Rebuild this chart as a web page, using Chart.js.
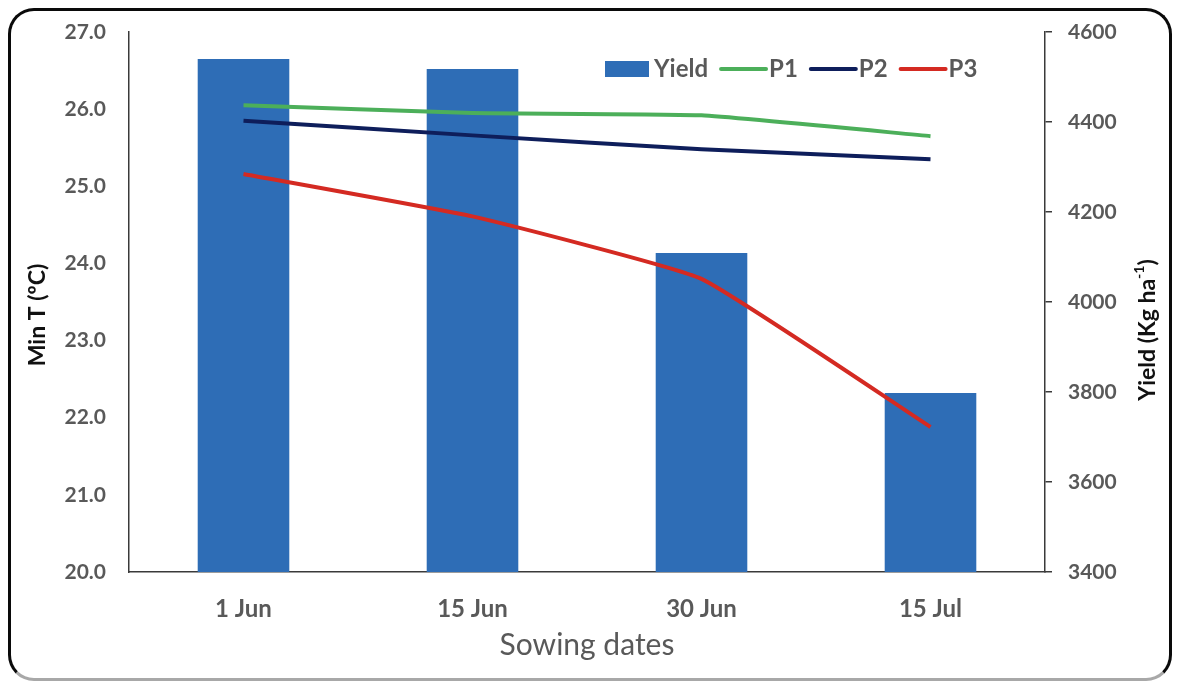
<!DOCTYPE html>
<html>
<head>
<meta charset="utf-8">
<title>Sowing dates: minimum temperature and yield</title>
<script src="https://cdn.jsdelivr.net/npm/chart.js@4.4.1/dist/chart.umd.min.js"></script>
<style>
  html, body { margin: 0; padding: 0; background: #fff; overflow: hidden; }
  #wrap { position: relative; width: 1178px; height: 681px; }
  canvas { position: absolute; left: 0; top: 0; }
  #frame {
    position: absolute; left: 8px; top: 8px;
    width: 1158px; height: 667px;
    border: 3px solid #0a0a0a; border-bottom-color: #a8a8a8;
    border-radius: 26px; pointer-events: none;
  }
</style>
</head>
<body>
<div id="wrap">
  <canvas id="chart" width="1178" height="681"></canvas>
  <div id="frame"></div>
</div>
<script>
// Sowing dates on the x axis
const categories = ['1 Jun', '15 Jun', '30 Jun', '15 Jul'];

// Grain yield (Kg ha-1), right axis
const yieldKg = [4540, 4518, 4109, 3798];

// Minimum temperature (ºC) during growth phases, left axis
const p1 = [26.05, 25.95, 25.92, 25.65];
const p2 = [25.85, 25.66, 25.48, 25.35];
const p3 = [25.16, 24.61, 23.80, 21.88];

// Axis ranges
const tempRange = { min: 20, max: 27, step: 1 };
const yieldRange = { min: 3400, max: 4600, step: 200 };

const FONT = 'Lato, "Open Sans", "DejaVu Sans", sans-serif';
const GRAY = '#595959';
const AXIS = '#3a3a3a';

// Legend drawn inside the plot area, top right
const insideLegend = {
  id: 'insideLegend',
  afterDraw(chart) {
    const ctx = chart.ctx;
    let x = 605;
    const y = 69;
    ctx.save();
    ctx.font = 'bold 24px ' + FONT;
    ctx.textBaseline = 'middle';
    ctx.textAlign = 'left';
    chart.data.datasets.forEach(ds => {
      if (ds.type === 'bar') {
        ctx.fillStyle = ds.backgroundColor;
        ctx.fillRect(x, y - 8, 44, 16);
      } else {
        ctx.strokeStyle = ds.borderColor;
        ctx.lineWidth = 4;
        ctx.lineCap = 'round';
        ctx.beginPath();
        ctx.moveTo(x + 1, y);
        ctx.lineTo(x + 46, y);
        ctx.stroke();
      }
      x += 49;
      ctx.fillStyle = GRAY;
      ctx.fillText(ds.label, x, y);
      x += ctx.measureText(ds.label).width + 12;
    });
    ctx.restore();
  }
};

// Axis titles drawn as rotated text; the right one carries a superscript unit
function drawRotated(ctx, parts, cx, cy, color) {
  ctx.save();
  let total = 0;
  parts.forEach(p => { ctx.font = p.f; p.w = ctx.measureText(p.t).width; total += p.w; });
  ctx.translate(cx, cy);
  ctx.rotate(-Math.PI / 2);
  ctx.fillStyle = color;
  ctx.textBaseline = 'middle';
  ctx.textAlign = 'left';
  let x = -total / 2;
  parts.forEach(p => { ctx.font = p.f; ctx.fillText(p.t, x, p.dy); x += p.w; });
  ctx.restore();
}

const axisTitles = {
  id: 'axisTitles',
  afterDraw(chart) {
    const ctx = chart.ctx;
    const main = 'bold 23px ' + FONT;
    const sup = 'bold 14px ' + FONT;
    drawRotated(ctx, [{ t: 'Min T (ºC)', f: main, dy: 0 }], 38, 315, '#111');
    drawRotated(ctx, [
      { t: 'Yield (Kg ha', f: main, dy: 0 },
      { t: '-1', f: sup, dy: -9 },
      { t: ')', f: main, dy: 0 }
    ], 1148, 330, '#111');
  }
};

// Fixed side widths; vertical label overhang is left to the layout padding
function fitVertical(width) {
  return s => { s.width = width; s.paddingTop = 0; s.paddingBottom = 0; };
}

new Chart(document.getElementById('chart'), {
  data: {
    labels: categories,
    datasets: [
      {
        type: 'bar', label: 'Yield', data: yieldKg, yAxisID: 'y1',
        backgroundColor: '#2E6DB6', borderWidth: 0,
        barPercentage: 0.4, categoryPercentage: 1, order: 5
      },
      {
        type: 'line', label: 'P1', data: p1, yAxisID: 'y',
        borderColor: '#4CAF5A', borderWidth: 4, pointRadius: 0, tension: 0.12, order: 3
      },
      {
        type: 'line', label: 'P2', data: p2, yAxisID: 'y',
        borderColor: '#0E1E5B', borderWidth: 4, pointRadius: 0, tension: 0.12, order: 2
      },
      {
        type: 'line', label: 'P3', data: p3, yAxisID: 'y',
        borderColor: '#D42A22', borderWidth: 4, pointRadius: 0, tension: 0.12, order: 1
      }
    ]
  },
  options: {
    responsive: false,
    devicePixelRatio: 1,
    animation: false,
    layout: { autoPadding: false, padding: { left: 12, right: 8, top: 32, bottom: 8 } },
    plugins: { legend: { display: false }, tooltip: { enabled: false } },
    scales: {
      x: {
        type: 'category', offset: true,
        grid: { display: false, drawTicks: false },
        border: { display: true, color: AXIS, width: 1.5 },
        ticks: { font: { family: FONT, size: 24, weight: 'bold' }, color: GRAY, padding: 23, maxRotation: 0 },
        title: {
          display: true, text: 'Sowing dates', color: GRAY,
          font: { family: FONT, size: 30 }, padding: { top: 0, bottom: 10 }
        },
        afterFit(s) { s.height = 101; }
      },
      y: {
        position: 'left', min: tempRange.min, max: tempRange.max,
        grid: { display: false, drawTicks: false },
        border: { display: true, color: AXIS, width: 1.5 },
        ticks: {
          stepSize: tempRange.step, callback: v => v.toFixed(1),
          font: { family: FONT, size: 21, weight: 'bold' }, color: GRAY, padding: 23
        },
        afterFit: fitVertical(117)
      },
      y1: {
        position: 'right', min: yieldRange.min, max: yieldRange.max,
        grid: { display: true, drawOnChartArea: false, drawTicks: true, tickLength: 7, color: AXIS, lineWidth: 1.5 },
        border: { display: true, color: AXIS, width: 1.5 },
        ticks: {
          stepSize: yieldRange.step, callback: v => String(v),
          font: { family: FONT, size: 21, weight: 'bold' }, color: GRAY, padding: 16
        },
        afterFit: fitVertical(125)
      }
    }
  },
  plugins: [insideLegend, axisTitles]
});
</script>
</body>
</html>
